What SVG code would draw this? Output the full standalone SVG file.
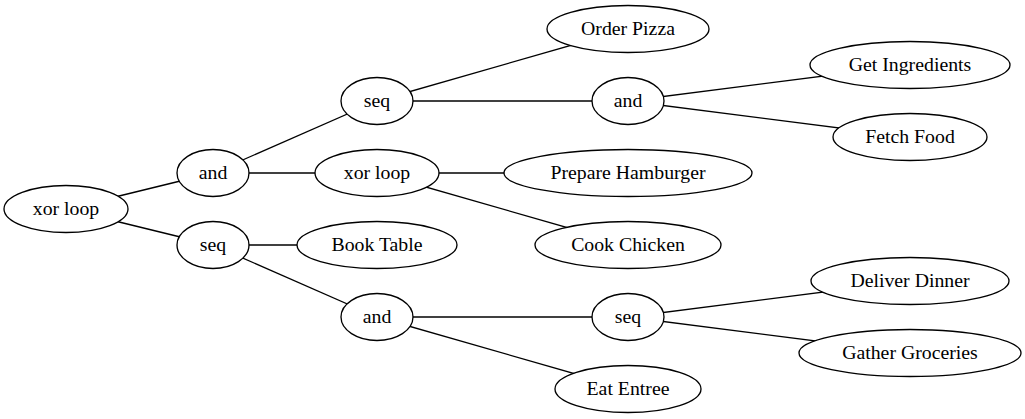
<svg xmlns="http://www.w3.org/2000/svg" width="1025" height="419" viewBox="0 0 1025 419">
<style>
.n ellipse{fill:#fff;stroke:#000;stroke-width:1.33}
.n text{font-family:"Liberation Serif","Times New Roman",serif;font-size:19.8px;text-anchor:middle;fill:#000}
#edges line{stroke:#000;stroke-width:1.33}
</style>
<rect width="1025" height="419" fill="#fff"/>
<g id="edges">
<line x1="66" y1="209" x2="213" y2="173"/>
<line x1="66" y1="209" x2="213" y2="245"/>
<line x1="213" y1="173" x2="377" y2="101"/>
<line x1="213" y1="173" x2="377" y2="173"/>
<line x1="213" y1="245" x2="377" y2="245"/>
<line x1="213" y1="245" x2="377" y2="317"/>
<line x1="377" y1="101" x2="628" y2="29"/>
<line x1="377" y1="101" x2="628" y2="101"/>
<line x1="377" y1="173" x2="628" y2="173"/>
<line x1="377" y1="173" x2="628" y2="245"/>
<line x1="377" y1="317" x2="628" y2="317"/>
<line x1="377" y1="317" x2="628" y2="389"/>
<line x1="628" y1="101" x2="910" y2="65"/>
<line x1="628" y1="101" x2="910" y2="137"/>
<line x1="628" y1="317" x2="910" y2="281"/>
<line x1="628" y1="317" x2="910" y2="353"/>
</g>
<g id="n_root" class="n"><ellipse cx="66" cy="209" rx="62" ry="23.5"/><text x="66" y="215">xor loop</text></g>
<g id="n_and1" class="n"><ellipse cx="213" cy="173" rx="36" ry="23.5"/><text x="213" y="179">and</text></g>
<g id="n_seq1" class="n"><ellipse cx="213" cy="245" rx="36" ry="23.5"/><text x="213" y="251">seq</text></g>
<g id="n_seq2" class="n"><ellipse cx="377" cy="101" rx="36" ry="23.5"/><text x="377" y="107">seq</text></g>
<g id="n_xor2" class="n"><ellipse cx="377" cy="173" rx="62" ry="23.5"/><text x="377" y="179">xor loop</text></g>
<g id="n_book" class="n"><ellipse cx="377" cy="245" rx="80" ry="23.5"/><text x="377" y="251">Book Table</text></g>
<g id="n_and3" class="n"><ellipse cx="377" cy="317" rx="36" ry="23.5"/><text x="377" y="323">and</text></g>
<g id="n_pizza" class="n"><ellipse cx="628" cy="29" rx="81" ry="23.5"/><text x="628" y="35">Order Pizza</text></g>
<g id="n_and2" class="n"><ellipse cx="628" cy="101" rx="36" ry="23.5"/><text x="628" y="107">and</text></g>
<g id="n_burger" class="n"><ellipse cx="628" cy="173" rx="124" ry="23.5"/><text x="628" y="179">Prepare Hamburger</text></g>
<g id="n_chicken" class="n"><ellipse cx="628" cy="245" rx="93" ry="23.5"/><text x="628" y="251">Cook Chicken</text></g>
<g id="n_seq3" class="n"><ellipse cx="628" cy="317" rx="36" ry="23.5"/><text x="628" y="323">seq</text></g>
<g id="n_eat" class="n"><ellipse cx="628" cy="389" rx="73" ry="23.5"/><text x="628" y="395">Eat Entree</text></g>
<g id="n_ingr" class="n"><ellipse cx="910" cy="65" rx="100" ry="23.5"/><text x="910" y="71">Get Ingredients</text></g>
<g id="n_fetch" class="n"><ellipse cx="910" cy="137" rx="77" ry="23.5"/><text x="910" y="143">Fetch Food</text></g>
<g id="n_deliver" class="n"><ellipse cx="910" cy="281" rx="99" ry="23.5"/><text x="910" y="287">Deliver Dinner</text></g>
<g id="n_gather" class="n"><ellipse cx="910" cy="353" rx="111" ry="23.5"/><text x="910" y="359">Gather Groceries</text></g>
</svg>
